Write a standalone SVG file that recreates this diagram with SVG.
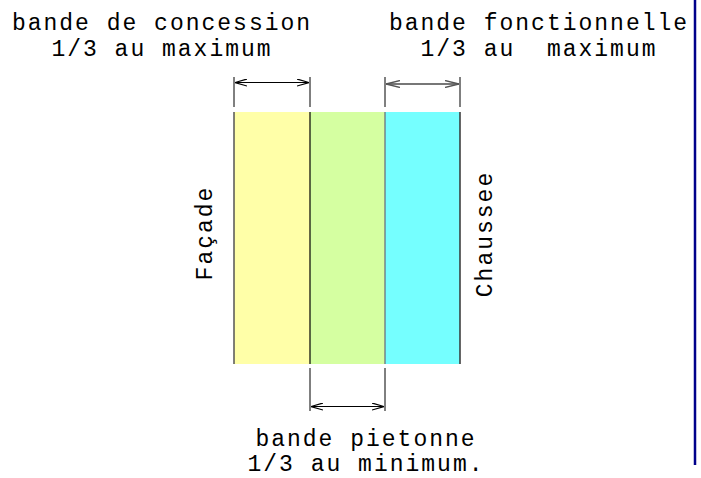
<svg xmlns="http://www.w3.org/2000/svg" width="701" height="478" viewBox="0 0 701 478">
<style>
text{font-family:"Liberation Mono","Courier New",monospace;font-size:23px;letter-spacing:2px;fill:#000;text-anchor:middle}
.ext{stroke:#000;stroke-width:1}
.dim{stroke:#000;stroke-width:1.2;fill:none}
.dimg{stroke:#777;stroke-width:2;fill:none}
</style>
<defs>
<marker id="ah" viewBox="0 0 12 8" refX="12" refY="4" markerWidth="12" markerHeight="8" markerUnits="userSpaceOnUse" orient="auto-start-reverse">
<path d="M0,0.5 L12,4 L0,7.5" fill="none" stroke="#000" stroke-width="1.2"/>
</marker>
<marker id="ahg" viewBox="0 0 14 8" refX="14" refY="4" markerWidth="14" markerHeight="8" markerUnits="userSpaceOnUse" orient="auto-start-reverse">
<path d="M0,0.5 L14,4 L0,7.5" fill="none" stroke="#555" stroke-width="1.4"/>
</marker>
</defs>
<rect width="701" height="478" fill="#fff"/>
<g id="bande-concession"><rect x="234" y="112" width="76" height="252" fill="#FFFFA8"/></g>
<g id="bande-pietonne"><rect x="310" y="112" width="75" height="252" fill="#D5FFA1"/></g>
<g id="bande-fonctionnelle"><rect x="385" y="112" width="75" height="252" fill="#75FFFF"/></g>
<g id="edges">
<line x1="234" y1="112" x2="234" y2="364" stroke="#555" stroke-width="1.5"/>
<line x1="310" y1="112" x2="310" y2="364" stroke="#000" stroke-width="1.2"/>
<line x1="385" y1="112" x2="385" y2="364" stroke="#667" stroke-width="1.2"/>
<line x1="460" y1="112" x2="460" y2="364" stroke="#333" stroke-width="1.5"/>
</g>
<g id="connectors">
<line class="ext" x1="234" y1="77" x2="234" y2="107" stroke="#444"/>
<line class="ext" x1="310" y1="77" x2="310" y2="107"/>
<line class="dim" x1="235" y1="82.5" x2="309" y2="82.5" marker-start="url(#ah)" marker-end="url(#ah)"/>
<line class="ext" x1="385" y1="77" x2="385" y2="107" stroke="#444"/>
<line class="ext" x1="460" y1="77" x2="460" y2="107" stroke="#444"/>
<line class="dimg" x1="386" y1="84" x2="459" y2="84" marker-start="url(#ahg)" marker-end="url(#ahg)"/>
<line class="ext" x1="310" y1="368" x2="310" y2="411"/>
<line class="ext" x1="385" y1="368" x2="385" y2="411" stroke="#444"/>
<line class="dim" x1="311" y1="406.5" x2="384" y2="406.5" marker-start="url(#ah)" marker-end="url(#ah)"/>
</g>
<g id="label-concession">
<text x="162" y="30">bande de concession</text>
<text x="162" y="56">1/3 au maximum</text>
</g>
<g id="label-fonctionnelle">
<text x="539" y="30">bande fonctionnelle</text>
<text x="539" y="56" xml:space="preserve">1/3 au  maximum</text>
</g>
<g id="label-pietonne">
<text x="366" y="446">bande pietonne</text>
<text x="366" y="471">1/3 au minimum.</text>
</g>
<g id="label-facade"><text transform="translate(212,233) rotate(-90)">Façade</text></g>
<g id="label-chaussee"><text transform="translate(492,234) rotate(-90)">Chaussee</text></g>
<line x1="695" y1="0" x2="695" y2="465" stroke="#00008B" stroke-width="2.5"/>
</svg>
